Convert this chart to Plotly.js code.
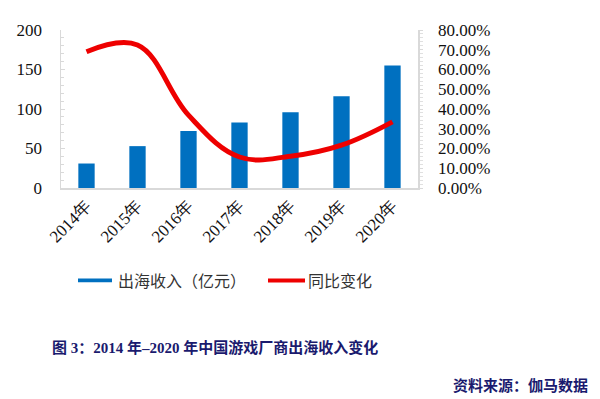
<!DOCTYPE html>
<html><head><meta charset="utf-8">
<script src="https://cdn.plot.ly/plotly-3.0.1.min.js"></script>
<style>html,body{margin:0;padding:0;background:#fff}#c{width:600px;height:399px}</style>
</head><body><div id="c"></div>
<script>
const years = ['2014年','2015年','2016年','2017年','2018年','2019年','2020年'];
const revenue = [31, 53, 72, 83, 96, 116, 155];
const growth = [0.69, 0.724, 0.369, 0.157, 0.161, 0.217, 0.335];
const leftTicks = [0, 50, 100, 150, 200];
const rightTicks = [0, 0.1, 0.2, 0.3, 0.4, 0.5, 0.6, 0.7, 0.8];
const seriesNames = ['出海收入（亿元）', '同比变化'];
const captionText = '图 3：2014 年–2020 年中国游戏厂商出海收入变化';
const sourceText = '资料来源：伽马数据';

const serif = 'Liberation Serif, Times New Roman, serif';
const cjk = 'Noto Sans CJK SC, sans-serif';
const navy = '#1a1a6e';

const traces = [
  {type:'bar', x: years, y: revenue, name: seriesNames[0], marker:{color:'#0070C0'}, width:0.32, showlegend:false, yaxis:'y'},
  {type:'scatter', mode:'lines', x: years, y: growth, name: seriesNames[1], yaxis:'y2',
   line:{color:'#EE0000', width:5, shape:'spline', smoothing:1.1}, showlegend:false}
];

const layout = {
  width:600, height:399,
  margin:{l:61, r:182, t:30, b:211},
  paper_bgcolor:'#fff', plot_bgcolor:'#fff',
  xaxis:{type:'category', showgrid:false, showline:true, linecolor:'#d9d9d9', linewidth:1.5,
    tickangle:-45, tickfont:{family:serif, size:17, color:'#111'}, ticks:'', zeroline:false},
  yaxis:{range:[0,200], tickvals:leftTicks, ticktext:leftTicks.map(String), showgrid:false, zeroline:false,
    showline:true, linecolor:'#d9d9d9', linewidth:1.5, ticks:'inside', ticklen:4, tickcolor:'#d9d9d9',
    minor:{dtick:10, ticks:'inside', ticklen:3, tickcolor:'#d9d9d9'},
    tickfont:{family:serif, size:17, color:'#111'}, ticklabelstandoff:14},
  yaxis2:{range:[0,0.8], overlaying:'y', side:'right', tickvals:rightTicks,
    ticktext:rightTicks.map(v=>(v*100).toFixed(2)+'%'), showgrid:false, zeroline:false,
    showline:true, linecolor:'#d9d9d9', linewidth:1.5, ticks:'outside', ticklen:3, tickcolor:'#d9d9d9',
    minor:{dtick:0.02, ticks:'outside', ticklen:3, tickcolor:'#e0e0e0'},
    tickfont:{family:serif, size:17, color:'#111'}, ticklabelstandoff:12},
  shapes:[
    {type:'rect', xref:'paper', yref:'paper', x0:(78-61)/357, x1:(112-61)/357, y0:-0.597, y1:-0.572,
     fillcolor:'#0070C0', line:{width:0}},
    {type:'line', xref:'paper', yref:'paper', x0:(268-61)/357, x1:(305-61)/357, y0:-0.585, y1:-0.585,
     line:{color:'#EE0000', width:4}}
  ],
  annotations:[
    {xref:'paper', yref:'paper', x:(116-61)/357, y:-0.585, xanchor:'left', yanchor:'middle', showarrow:false,
     text:seriesNames[0], font:{family:cjk, size:16, color:'#333'}},
    {xref:'paper', yref:'paper', x:(306-61)/357, y:-0.585, xanchor:'left', yanchor:'middle', showarrow:false,
     text:seriesNames[1], font:{family:cjk, size:16, color:'#333'}},
    {xref:'paper', yref:'paper', x:(50-61)/357, y:(188-347)/158, xanchor:'left', yanchor:'middle', showarrow:false,
     text:'<b>'+captionText+'</b>', font:{family:'Liberation Serif, Noto Sans CJK SC', size:15, color:navy}},
    {xref:'paper', yref:'paper', x:(590-61)/357, y:(188-384)/158, xanchor:'right', yanchor:'middle', showarrow:false,
     text:'<b>'+sourceText+'</b>', font:{family:'Noto Sans CJK SC', size:15, color:navy}}
  ]
};
Plotly.newPlot('c', traces, layout, {staticPlot:true, displayModeBar:false});
</script></body></html>
